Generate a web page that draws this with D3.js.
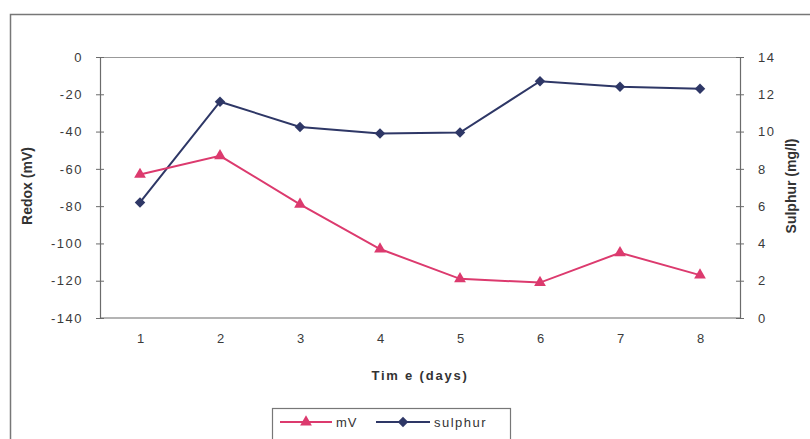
<!DOCTYPE html>
<html>
<head>
<meta charset="utf-8">
<script src="https://cdn.jsdelivr.net/npm/d3@7"></script>
<style>
  body { margin: 0; background: #fff; }
  text { font-family: "Liberation Sans", Arial, sans-serif; }
</style>
</head>
<body>
<svg id="draw"></svg>
<script>
// chart data
var days = [1, 2, 3, 4, 5, 6, 7, 8];
var redox = [-63, -53, -79, -103, -119, -121, -105, -117];
var sulphur = [6.2, 11.6, 10.25, 9.9, 9.95, 12.7, 12.4, 12.3];
var redoxTicks = [0, -20, -40, -60, -80, -100, -120, -140];
var sulphurTicks = [0, 2, 4, 6, 8, 10, 12, 14];

var W = 810, H = 439;
var margin = { top: 57, right: 70, bottom: 121, left: 100 };
var width = W - margin.left - margin.right;
var height = H - margin.top - margin.bottom;

var pink = "#dc3a6e";
var navy = "#2e3766";
var axisCol = "#6b6b6b";

var svg = d3.select("#draw")
  .attr("width", W)
  .attr("height", H);

// outer chart frame
svg.append("rect")
  .attr("x", 10.5).attr("y", 14.5)
  .attr("width", 810).attr("height", 440)
  .attr("fill", "none")
  .attr("stroke", "#777")
  .attr("stroke-width", 1.5);

var g = svg.append("g")
  .attr("transform", "translate(" + margin.left + "," + margin.top + ")");

var xScale = d3.scalePoint()
  .domain(days)
  .range([0, width])
  .padding(0.5);

var yLeft = d3.scaleLinear()
  .domain([-140, 0])
  .range([height, 0]);

var yRight = d3.scaleLinear()
  .domain([0, 14])
  .range([height, 0]);

// plot area border (top + bottom)
g.append("line")
  .attr("x1", 0).attr("x2", width).attr("y1", 0.5).attr("y2", 0.5)
  .attr("stroke", "#999").attr("stroke-width", 1.2);
g.append("line")
  .attr("x1", 0).attr("x2", width).attr("y1", height).attr("y2", height)
  .attr("stroke", axisCol).attr("stroke-width", 1.2);

// left axis
var leftAx = g.append("g")
  .call(d3.axisLeft(yLeft).tickValues(redoxTicks).tickSize(4).tickPadding(13)
    .tickFormat(function(d) { return String(d); }));
// right axis
var rightAx = g.append("g")
  .attr("transform", "translate(" + width + ",0)")
  .call(d3.axisRight(yRight).tickValues(sulphurTicks).tickSize(4).tickPadding(14));

[leftAx, rightAx].forEach(function(ax) {
  ax.select(".domain").attr("stroke", axisCol).attr("stroke-width", 1.2);
  ax.selectAll(".tick line").attr("stroke", axisCol).attr("x1", function() {
    return ax === leftAx ? 4 : -4;
  });
  ax.selectAll(".tick text")
    .attr("fill", "#3a3a3a")
    .style("font-size", "13px")
    .style("letter-spacing", "1.5px");
});

// bottom axis labels
var xAx = g.append("g")
  .attr("transform", "translate(0," + height + ")")
  .call(d3.axisBottom(xScale).tickSize(0).tickPadding(16));
xAx.select(".domain").remove();
xAx.selectAll(".tick text")
  .attr("fill", "#3a3a3a")
  .style("font-size", "13px");

// axis titles
svg.append("text")
  .attr("transform", "translate(32,186) rotate(-90)")
  .attr("text-anchor", "middle")
  .style("font-size", "14px")
  .style("font-weight", "bold")
  .attr("fill", "#333")
  .text("Redox (mV)");

svg.append("text")
  .attr("transform", "translate(796,186) rotate(-90)")
  .attr("text-anchor", "middle")
  .style("font-size", "14px")
  .style("font-weight", "bold")
  .attr("fill", "#333")
  .text("Sulphur (mg/l)");

svg.append("text")
  .attr("x", margin.left + width / 2)
  .attr("y", 380)
  .attr("text-anchor", "middle")
  .style("font-size", "13px")
  .style("font-weight", "bold")
  .style("letter-spacing", "1.8px")
  .attr("fill", "#333")
  .text("Tim e (days)");

// lines
var redoxLine = d3.line()
  .x(function(d, i) { return xScale(days[i]); })
  .y(function(d) { return yLeft(d); });
var sulphurLine = d3.line()
  .x(function(d, i) { return xScale(days[i]); })
  .y(function(d) { return yRight(d); });

g.append("path")
  .datum(sulphur)
  .attr("d", sulphurLine)
  .attr("fill", "none")
  .attr("stroke", navy)
  .attr("stroke-width", 2);

g.append("path")
  .datum(redox)
  .attr("d", redoxLine)
  .attr("fill", "none")
  .attr("stroke", pink)
  .attr("stroke-width", 2);

var diamond = d3.symbol().type(d3.symbolDiamond2).size(70);
var triangle = d3.symbol().type(d3.symbolTriangle).size(60);

g.selectAll(".sdot")
  .data(sulphur)
  .enter().append("path")
  .attr("class", "sdot")
  .attr("d", diamond)
  .attr("transform", function(d, i) {
    return "translate(" + xScale(days[i]) + "," + yRight(d) + ")";
  })
  .attr("fill", navy);

g.selectAll(".rdot")
  .data(redox)
  .enter().append("path")
  .attr("class", "rdot")
  .attr("d", triangle)
  .attr("transform", function(d, i) {
    return "translate(" + xScale(days[i]) + "," + yLeft(d) + ")";
  })
  .attr("fill", pink);

// legend
var leg = svg.append("g").attr("transform", "translate(272,408)");
leg.append("rect")
  .attr("x", 0.5).attr("y", 0.5)
  .attr("width", 238).attr("height", 40)
  .attr("fill", "#fff")
  .attr("stroke", "#777")
  .attr("stroke-width", 1.2);

leg.append("line")
  .attr("x1", 8).attr("x2", 60).attr("y1", 14).attr("y2", 14)
  .attr("stroke", pink).attr("stroke-width", 2);
leg.append("path").attr("d", triangle)
  .attr("transform", "translate(34,14)").attr("fill", pink);
leg.append("text")
  .attr("x", 64).attr("y", 19)
  .style("font-size", "13px")
  .style("letter-spacing", "1px")
  .attr("fill", "#333")
  .text("mV");

leg.append("line")
  .attr("x1", 104).attr("x2", 158).attr("y1", 14).attr("y2", 14)
  .attr("stroke", navy).attr("stroke-width", 2);
leg.append("path").attr("d", diamond)
  .attr("transform", "translate(131,14)").attr("fill", navy);
leg.append("text")
  .attr("x", 162).attr("y", 19)
  .style("font-size", "13px")
  .style("letter-spacing", "1.5px")
  .attr("fill", "#333")
  .text("sulphur");
</script>
</body>
</html>
